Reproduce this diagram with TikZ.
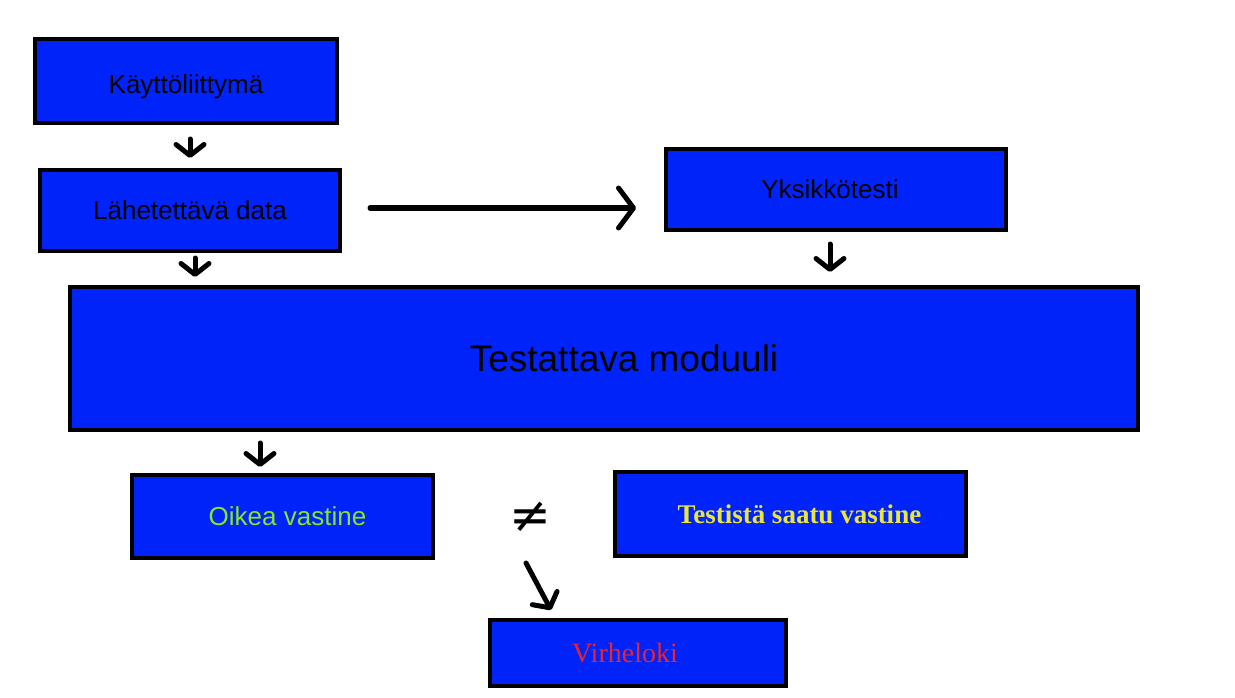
\documentclass[tikz,border=0pt]{standalone}
\usepackage{fontspec}
\setmainfont{Liberation Serif}
\setsansfont{Liberation Sans}
\newfontfamily\symfont{DejaVu Sans}
\usetikzlibrary{arrows.meta}
\definecolor{boxblue}{RGB}{0,35,250}
\definecolor{txtgreen}{RGB}{135,230,40}
\definecolor{txtyellow}{RGB}{235,230,60}
\definecolor{txtred}{RGB}{235,35,45}
\tikzset{
  box/.style={draw=black, line width=4pt, fill=boxblue, inner sep=0pt, anchor=center,
    font=\sffamily\fontsize{26}{30}\selectfont},
  arr/.style={line width=5pt, line cap=round, line join=round,
    -{Straight Barb[length=11pt,width=28pt,line cap=round,line join=round]}},
  bigarr/.style={line width=5pt, line cap=round, line join=round,
    -{Straight Barb[length=15pt,width=40pt,line cap=round,line join=round]}},
}
\begin{document}
\begin{tikzpicture}[x=1pt,y=-1pt]
\useasboundingbox[fill=white] (0,0) rectangle (1235,698);

\node[box, minimum width=302pt, minimum height=84pt] (ui) at (186,81) {\raisebox{-13pt}[0pt][0pt]{Käyttöliittymä}};
\node[box, minimum width=300pt, minimum height=81pt] (data) at (190,210.5) {Lähetettävä data};
\node[box, minimum width=340pt, minimum height=81pt] (unit) at (836,189.5) {Yksikkötesti\hspace*{12pt}};
\node[box, minimum width=1068pt, minimum height=143pt,
  font=\sffamily\fontsize{37}{42}\selectfont] (mod) at (604,358.5) {\hspace*{40pt}Testattava moduuli};
\node[box, minimum width=301pt, minimum height=83pt, text=txtgreen] (ok) at (282.5,516.5) {\hspace*{10pt}Oikea vastine};
\node[box, minimum width=351pt, minimum height=84pt, text=txtyellow,
  font=\rmfamily\bfseries\fontsize{27}{32}\selectfont] (got) at (790.5,514) {\hspace*{18pt}Testistä saatu vastine};
\node[box, minimum width=296pt, minimum height=66pt, text=txtred,
  font=\rmfamily\fontsize{28}{32}\selectfont] (log) at (638,653) {Virheloki\hspace*{26pt}};

\node[inner sep=0pt, font=\symfont\fontsize{50}{50}\selectfont] (neq) at (530,517) {≠};

\draw[arr, shorten <=14pt, shorten >=10pt] ([xshift=4pt]ui.south) -- ([xshift=4pt]ui.south |- data.north);
\draw[arr, shorten <=5pt, shorten >=8pt] ([xshift=5pt]data.south) -- ([xshift=5pt]data.south |- mod.north);
\draw[arr, shorten <=12pt, shorten >=13pt] ([xshift=-6pt]unit.south) -- ([xshift=-6pt]unit.south |- mod.north);
\draw[arr, shorten <=11pt, shorten >=6pt] ([xshift=-22.5pt]ok.north |- mod.south) -- ([xshift=-22.5pt]ok.north);
\draw[bigarr, shorten <=28pt, shorten >=28pt] ([yshift=2.5pt]data.east) -- ([yshift=2.5pt]data.east -| unit.west);
\coordinate (d1) at (526,563);
\draw[arr] (d1) -- ([xshift=-87pt,yshift=8pt]log.north);
\end{tikzpicture}
\end{document}
